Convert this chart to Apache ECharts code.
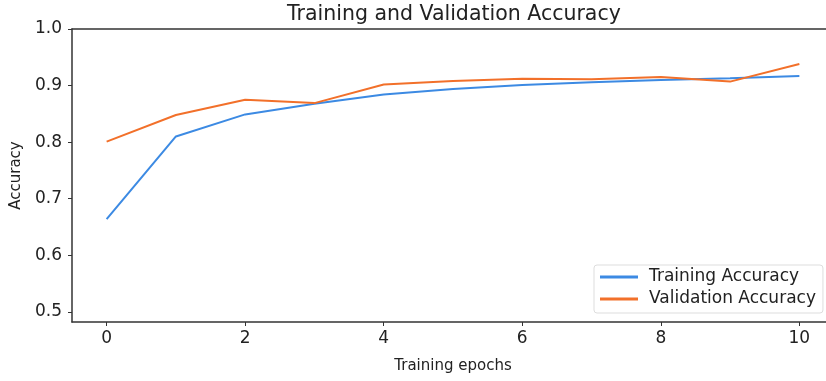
<!DOCTYPE html>
<html>
<head>
<meta charset="utf-8">
<script src="https://cdn.jsdelivr.net/npm/echarts@6/dist/echarts.min.js"></script>
<style>
  html, body { margin: 0; padding: 0; background: #fff; }
  #chart { width: 826px; height: 381px; }
</style>
</head>
<body>
<div id="chart"></div>
<script>
const epochs = [0, 1, 2, 3, 4, 5, 6, 7, 8, 9, 10];
const trainingAccuracy = [0.664, 0.810, 0.849, 0.868, 0.884, 0.894, 0.901, 0.906, 0.910, 0.913, 0.917];
const validationAccuracy = [0.801, 0.848, 0.875, 0.869, 0.902, 0.908, 0.912, 0.911, 0.915, 0.907, 0.938];
const xTicks = [0, 2, 4, 6, 8, 10];
const yTicks = [0.5, 0.6, 0.7, 0.8, 0.9, 1.0];

const FONT = 'DejaVu Sans';
const AXIS = '#333333';
const chart = echarts.init(document.getElementById('chart'), null, { renderer: 'canvas' });

chart.setOption({
  animation: false,
  backgroundColor: '#ffffff',
  title: {
    text: 'Training and Validation Accuracy',
    left: 287,
    top: 4,
    padding: 0,
    textStyle: { fontFamily: FONT, fontSize: 20.5, fontWeight: 'normal', color: '#222' }
  },
  grid: {
    left: 72, top: 29, width: 762, height: 293,
    outerBoundsMode: 'none',
    containLabel: false,
    show: false
  },
  legend: {
    orient: 'vertical',
    left: 594, top: 265,
    padding: [3, 7, 5, 6],
    itemGap: 4,
    itemWidth: 38,
    itemHeight: 3,
    icon: 'rect',
    backgroundColor: '#ffffff',
    borderColor: '#dddddd',
    borderWidth: 1,
    borderRadius: 3,
    textStyle: { fontFamily: FONT, fontSize: 17, color: '#222', lineHeight: 18, padding: [0, 0, 0, 6] },
    data: ['Training Accuracy', 'Validation Accuracy']
  },
  xAxis: [
    {
      type: 'value',
      min: -0.5, max: 10.5,
      name: 'Training epochs',
      nameLocation: 'middle',
      nameGap: 37,
      nameTextStyle: { fontFamily: FONT, fontSize: 15, color: '#222' },
      axisLine: { show: true, onZero: false, lineStyle: { color: AXIS, width: 1.5 } },
      axisTick: { show: true, length: 4, inside: false, customValues: xTicks, lineStyle: { color: AXIS } },
      axisLabel: { customValues: xTicks, fontFamily: FONT, fontSize: 17, color: '#222', margin: 8 },
      splitLine: { show: false }
    },
    {
      type: 'value',
      position: 'top',
      min: -0.5, max: 10.5,
      axisLine: { show: true, onZero: false, lineStyle: { color: AXIS, width: 1.5 } },
      axisTick: { show: false },
      axisLabel: { show: false },
      splitLine: { show: false }
    }
  ],
  yAxis: {
    type: 'value',
    min: 0.482, max: 1.0,
    name: 'Accuracy',
    nameLocation: 'middle',
    nameGap: 48,
    nameTextStyle: { fontFamily: FONT, fontSize: 15, color: '#222' },
    axisLine: { show: true, onZero: false, lineStyle: { color: AXIS, width: 1.5 } },
    axisTick: { show: true, length: 4, inside: false, customValues: yTicks, lineStyle: { color: AXIS } },
    axisLabel: {
      customValues: yTicks, fontFamily: FONT, fontSize: 17, color: '#222', margin: 10,
      formatter: v => v.toFixed(1)
    },
    splitLine: { show: false }
  },
  series: [
    {
      name: 'Training Accuracy',
      type: 'line',
      xAxisIndex: 0,
      data: epochs.map((e, i) => [e, trainingAccuracy[i]]),
      symbol: 'none',
      lineStyle: { color: '#3c8ae3', width: 2 },
      itemStyle: { color: '#3c8ae3' }
    },
    {
      name: 'Validation Accuracy',
      type: 'line',
      xAxisIndex: 0,
      data: epochs.map((e, i) => [e, validationAccuracy[i]]),
      symbol: 'none',
      lineStyle: { color: '#f2702a', width: 2 },
      itemStyle: { color: '#f2702a' }
    }
  ]
});
</script>
</body>
</html>
